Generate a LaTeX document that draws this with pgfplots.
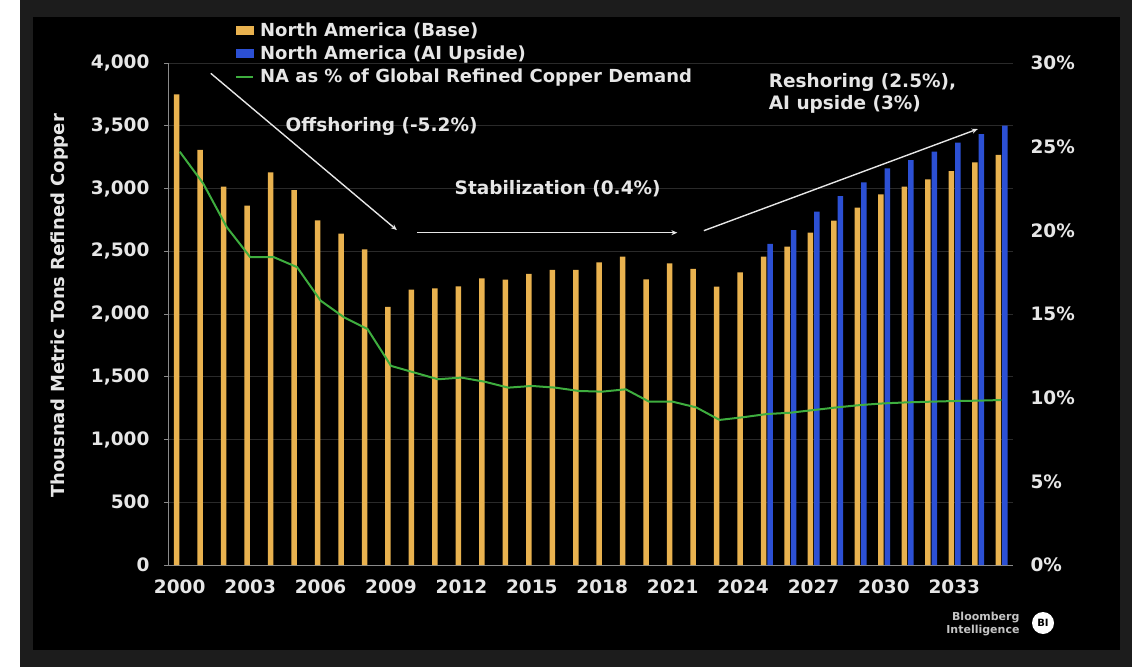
\documentclass[border=0pt]{standalone}
\usepackage{pgfplots}
\usepackage{pgfplotstable}
\pgfplotsset{compat=1.18}
\usepackage{fontspec}
\setmainfont{DejaVu Sans}
\usetikzlibrary{arrows.meta}
\definecolor{bgGray}{HTML}{1C1C1C}
\definecolor{baseOr}{HTML}{E9B24F}
\definecolor{aiBlue}{HTML}{2C50D4}
\definecolor{naGreen}{HTML}{3EAD3E}
\definecolor{gridC}{HTML}{2A2A2A}
\definecolor{txt}{HTML}{E6E6E6}
\definecolor{axC}{HTML}{8A8A8A}
\newcommand\tf{\fontsize{18.5}{22}\selectfont\bfseries}
\newcommand\lf{\fontsize{18}{21}\selectfont\bfseries}

\pgfplotstableread{
year base
2000 3750
2001 3307
2002 3014
2003 2863
2004 3129
2005 2988
2006 2746
2007 2640
2008 2515
2009 2056
2010 2194
2011 2204
2012 2220
2013 2284
2014 2274
2015 2319
2016 2351
2017 2351
2018 2412
2019 2457
2020 2276
2021 2404
2022 2359
2023 2218
2024 2332
2025 2457
2026 2536
2027 2648
2028 2744
2029 2847
2030 2953
2031 3015
2032 3073
2033 3139
2034 3208
2035 3267
}\basetab
\pgfplotstableread{
year ai
2025 2558
2026 2669
2027 2815
2028 2940
2029 3049
2030 3161
2031 3227
2032 3293
2033 3365
2034 3434
2035 3500
}\aitab
\pgfplotstableread{
year pct
2000 24.7
2001 22.8
2002 20.2
2003 18.4
2004 18.4
2005 17.8
2006 15.8
2007 14.8
2008 14.1
2009 11.9
2010 11.5
2011 11.1
2012 11.2
2013 10.95
2014 10.6
2015 10.7
2016 10.6
2017 10.4
2018 10.36
2019 10.5
2020 9.76
2021 9.76
2022 9.42
2023 8.67
2024 8.83
2025 9.02
2026 9.1
2027 9.26
2028 9.42
2029 9.56
2030 9.66
2031 9.72
2032 9.76
2033 9.8
2034 9.82
2035 9.86
}\pcttab

\begin{document}
\begin{tikzpicture}[x=1pt,y=1pt]
\fill[white] (0,0) rectangle (1134,667);
\fill[bgGray] (20,0) rectangle (1132,667);
\fill[black] (33,17) rectangle (1120,650);

\begin{axis}[
  at={(168pt,102pt)}, anchor=south west,
  scale only axis, width=845pt, height=502pt,
  xmin=1999.5, xmax=2035.5, ymin=0, ymax=4000,
  axis x line*=bottom, axis y line*=left,
  axis line style={axC, line width=0.8pt},
  xtick={2000,2003,...,2033},
  minor xtick={1999.5,2000.5,...,2035.5},
  ytick={0,500,...,4000},
  tick align=outside,
  major tick length=4pt, minor tick length=4pt,
  xtick style={draw=none},
  minor x tick style={axC, line width=0.6pt},
  ytick style={axC, line width=0.6pt},
  ymajorgrids, grid style={gridC, line width=0.8pt},
  /pgf/number format/assume math mode=true,
  x tick label style={/pgf/number format/1000 sep={}, txt, font=\tf, yshift=-7pt},
  y tick label style={/pgf/number format/1000 sep={,}, txt, font=\tf, xshift=-11pt},
  legend style={at={(rel axis cs:0.0793,1.0847)}, anchor=north west, draw=none, fill=none,
    text=txt, font=\lf, inner sep=0pt, row sep=4pt, cells={anchor=west},
    /tikz/every odd column/.append style={column sep=4pt}},
  legend cell align=left,
  clip=false,
]
\addplot[ybar, bar width=5.5pt, bar shift=-3pt, fill=baseOr, draw=none,
  legend image code/.code={\fill[baseOr] (0pt,-4.5pt) rectangle (18pt,4.5pt);}]
  table[x=year,y=base]{\basetab};
\addlegendentry{North America (Base)}
\addplot[ybar, bar width=5.5pt, bar shift=3.5pt, fill=aiBlue, draw=none,
  legend image code/.code={\fill[aiBlue] (0pt,-4.5pt) rectangle (18pt,4.5pt);}]
  table[x=year,y=ai]{\aitab};
\addlegendentry{North America (AI Upside)}
\addlegendimage{draw=naGreen, line width=1.8pt, sharp plot, mark=none}
\addlegendentry{NA as \% of Global Refined Copper Demand}

\draw[txt, line width=1.4pt, -{Stealth[length=6pt,width=5pt]}] (axis cs:2001.32,3918) -- (axis cs:2009.25,2669);
\node[txt, font=\tf] at (axis cs:2008.6,3492) {Offshoring (-5.2\%)};
\draw[txt, line width=1.4pt, -{Stealth[length=6pt,width=5pt]}] (axis cs:2010.1,2648) -- (axis cs:2021.2,2648);
\node[txt, font=\tf] at (axis cs:2016.1,3002) {Stabilization (0.4\%)};
\draw[txt, line width=1.4pt, -{Stealth[length=6pt,width=5pt]}] (axis cs:2022.33,2664) -- (axis cs:2034.0,3474);
\node[txt, font=\tf, anchor=west, align=left] at (axis cs:2024.95,3755) {Reshoring (2.5\%),\\AI upside (3\%)};
\end{axis}

\begin{axis}[
  at={(168pt,102pt)}, anchor=south west,
  scale only axis, width=845pt, height=502pt,
  xmin=1999.5, xmax=2035.5, ymin=0, ymax=30,
  axis x line=none, axis y line*=right,
  y axis line style={draw=none},
  ytick={0,5,...,30},
  ytick style={draw=none},
  yticklabel={\pgfmathprintnumber{\tick}\%},
  /pgf/number format/assume math mode=true,
  y tick label style={txt, font=\tf, anchor=west, xshift=14pt},
]
\addplot[naGreen, line width=2pt, mark=none] table[x=year,y=pct]{\pcttab};
\end{axis}

\node[txt!85!black, font=\fontsize{11}{13}\selectfont\bfseries, anchor=east, align=right] at (1023,43) {Bloomberg\\Intelligence};
\fill[white] (1043,44) circle (11);
\node[black, font=\fontsize{10}{12}\selectfont\bfseries] at (1043,44) {BI};
\node[txt, font=\fontsize{18}{21}\selectfont\bfseries, rotate=90] at (60,361) {Thousnad Metric Tons Refined Copper};
\end{tikzpicture}
\end{document}
